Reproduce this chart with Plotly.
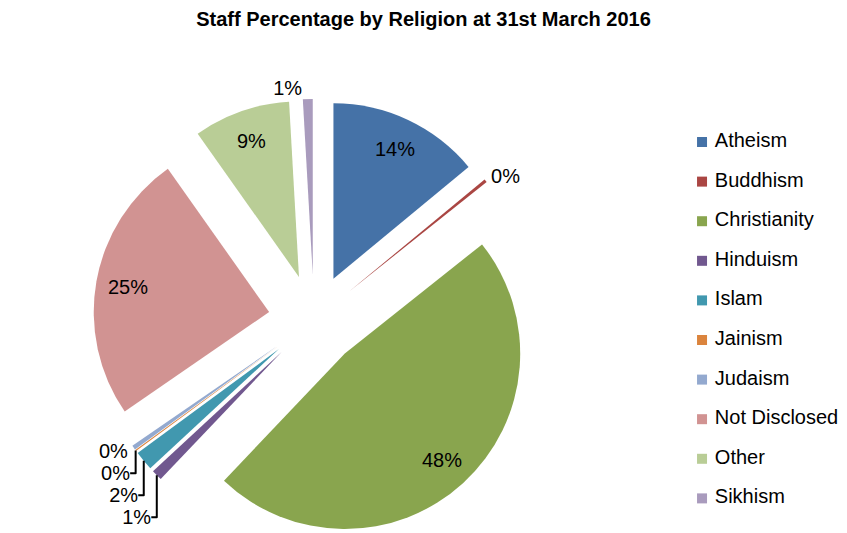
import math
import plotly.graph_objects as go

religions = ["Atheism", "Buddhism", "Christianity", "Hinduism", "Islam",
             "Jainism", "Judaism", "Not Disclosed", "Other", "Sikhism"]
staff_pct = [14.0, 0.3, 47.8, 1.0, 1.8, 0.1, 0.4, 24.8, 8.9, 0.9]
colors = ["#4572A7", "#AA4643", "#89A54E", "#71588F", "#4198AF",
          "#DB843D", "#93A9CF", "#D19392", "#B9CD96", "#A99BBD"]
# big slices get their label inside (drawn below), small ones outside
label_pos = ["none", "outside", "none", "outside", "outside",
             "outside", "outside", "none", "none", "outside"]

FONT = "Liberation Sans, Arial, sans-serif"
W, H = 847, 533
PULL = 0.26
PIE_X = [0.1004, 0.6222]
PIE_Y = [0.0, 0.8293]

fig = go.Figure()

fig.add_trace(go.Pie(
    labels=religions,
    values=staff_pct,
    sort=False,
    direction="clockwise",
    rotation=0,
    pull=PULL,
    marker={"colors": colors, "line": {"width": 0}},
    texttemplate="%{percent:.0%}",
    textposition=label_pos,
    outsidetextfont={"family": FONT, "size": 20, "color": "#000000"},
    domain={"x": PIE_X, "y": PIE_Y},
    showlegend=False,
    hoverinfo="label+percent",
))

# inside labels, Excel style: at ~0.82 of the radius along each slice's middle
cx = W * (PIE_X[0] + PIE_X[1]) / 2
cy = H * (1 - (PIE_Y[0] + PIE_Y[1]) / 2)
r = min(W * (PIE_X[1] - PIE_X[0]), H * (PIE_Y[1] - PIE_Y[0])) / 2 / (1 + PULL)
total = sum(staff_pct)
cum = 0.0
for val, pos in zip(staff_pct, label_pos):
    mid = math.radians((cum + val / 2) / total * 360)
    cum += val
    if pos != "none":
        continue
    dist = r * (PULL + 0.82)
    px = cx + dist * math.sin(mid)
    py = cy - dist * math.cos(mid)
    fig.add_annotation(
        x=px / W, y=1 - py / H, xref="paper", yref="paper",
        text=f"{val / total:.0%}", showarrow=False,
        xanchor="center", yanchor="middle",
        font={"family": FONT, "size": 20, "color": "#000000"},
    )

# legend drawn as a column of square markers
fig.add_trace(go.Scatter(
    x=[0] * len(religions),
    y=list(range(len(religions))),
    mode="markers+text",
    marker={"symbol": "square", "size": 10, "color": colors},
    text=["\u00a0" + name for name in religions],
    textposition="middle right",
    textfont={"family": FONT, "size": 20, "color": "#000000"},
    xaxis="x2", yaxis="y2",
    showlegend=False,
    hoverinfo="skip",
    cliponaxis=False,
))

fig.update_layout(
    title={"text": "<b>Staff Percentage by Religion at 31st March 2016</b>",
           "x": 0.4906, "xanchor": "center", "y": 0.9803, "yanchor": "middle",
           "font": {"family": FONT, "size": 20, "color": "#000000"}},
    width=W, height=H,
    margin={"l": 0, "r": 0, "t": 0, "b": 0, "autoexpand": False},
    paper_bgcolor="white", plot_bgcolor="white",
    xaxis2={"domain": [0.8194, 1.0], "range": [0, 1], "visible": False,
            "fixedrange": True, "anchor": "y2"},
    yaxis2={"domain": [0.0428, 0.7857], "range": [9.5, -0.5], "visible": False,
            "fixedrange": True, "anchor": "x2"},
    xaxis={"visible": False}, yaxis={"visible": False},
)

fig.write_html("out.html")
